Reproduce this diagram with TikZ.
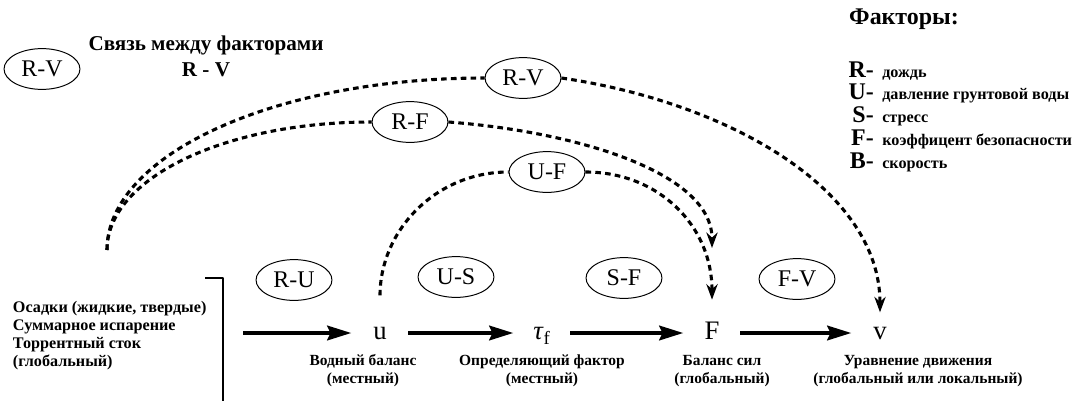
\documentclass[tikz,border=0pt]{standalone}
\usepackage{fontspec}
\setmainfont{Liberation Serif}
\usetikzlibrary{arrows.meta,shapes.geometric}
\begin{document}
\begin{tikzpicture}[x=0.025cm,y=-0.025cm,line join=round,>={Stealth[length=11pt,width=8pt]},
    rel/.style={draw,ellipse,line width=.7pt,minimum width=54pt,minimum height=29pt,inner sep=0pt,font=\fontsize{17}{17}\selectfont},
    flow/.style={line width=3.5pt,-{Stealth[length=17pt,width=10pt,inset=2pt]}},
    dep/.style={line width=2.2pt,dash pattern=on 4pt off 3pt},
    sym/.style={minimum width=40pt,inner sep=0pt,text height=13pt,text depth=4pt,font=\fontsize{19}{19}\selectfont},
    lbl/.style={align=center,font=\bfseries\fontsize{11}{12.8}\selectfont}]
    \useasboundingbox (0,0) rectangle (1072,401);
    \node[rel] (key) at (42,69) {R-V};
    \node[align=center,font=\bfseries\fontsize{15}{18.5}\selectfont] (keytxt) at (206,56) {Связь между факторами\\R - V};
    \node[font=\bfseries\fontsize{17}{17}\selectfont] (facts) at (904,19) {Факторы:};
    \foreach \l/\d/\y [count=\i] in {R/дождь/77,U/давление грунтовой воды/99,S/стресс/122,F/коэффицент безопасности/145,B/скорость/168}{
        \node[anchor=base east,inner sep=0pt,font=\bfseries\fontsize{17}{17}\selectfont] (k\i) at (874,\y) {\l-};
        \node[anchor=base west,inner sep=0pt,font=\bfseries\fontsize{11.5}{11.5}\selectfont] (d\i) at (882,\y) {\d};
    }
    \node[anchor=west,align=left,font=\bfseries\fontsize{11.5}{12.8}\selectfont] (rain) at (8,336) {Осадки (жидкие, твердые)\\Суммарное испарение\\Торрентный сток\\(глобальный)};
    \draw[line width=2pt] (205,278) -- (223,278) -- (223,401);
    \coordinate (in) at (243,333);
    \coordinate (src) at (107,250);
    \coordinate (rfend) at (712,248);
    \node[sym] (u) at (380,333) {u};
    \node[sym] (tau) at (542,333) {\textit{τ}\textsubscript{f}};
    \node[sym] (F) at (712,333) {F};
    \node[sym] (v) at (880,333) {v};
    \node[lbl] (wb) at (363,371) {Водный баланс\\(местный)};
    \node[lbl] (cf) at (542,371) {Определяющий фактор\\(местный)};
    \node[lbl] (fb) at (722,371) {Баланс сил\\(глобальный)};
    \node[lbl] (me) at (918,371) {Уравнение движения\\(глобальный или локальный)};
    \node[rel] (ru) at (294,280) {R-U};
    \node[rel] (us) at (456,277) {U-S};
    \node[rel] (sf) at (624,278) {S-F};
    \node[rel] (fv) at (797,279) {F-V};
    \node[rel] (rv) at (523,78) {R-V};
    \node[rel] (rf) at (410,122) {R-F};
    \node[rel] (uf) at (547,172) {U-F};
    \draw[flow] (in) -- (u);
    \draw[flow] (u) -- (tau);
    \draw[flow] (tau) -- (F);
    \draw[flow] (F) -- (v);
    \draw[dep] (src) .. controls +(0,-95) and +(-210,0) .. (rv.west);
    \draw[dep,->,shorten >=6pt] (rv.east) .. controls +(170,25) and +(0,-130) .. (v.north);
    \draw[dep] (src) .. controls +(0,-71) and +(-148,0) .. (rf.west);
    \draw[dep,->] (rf.east) .. controls +(130,10) and +(0,-75) .. (rfend);
    \draw[dep,shorten <=18pt] (u.north) .. controls +(0,-90) and +(-73,0) .. (uf.west);
    \draw[dep,->,shorten >=15pt] (uf.east) .. controls +(73,0) and +(0,-95) .. (F.north);
\end{tikzpicture}
\end{document}
